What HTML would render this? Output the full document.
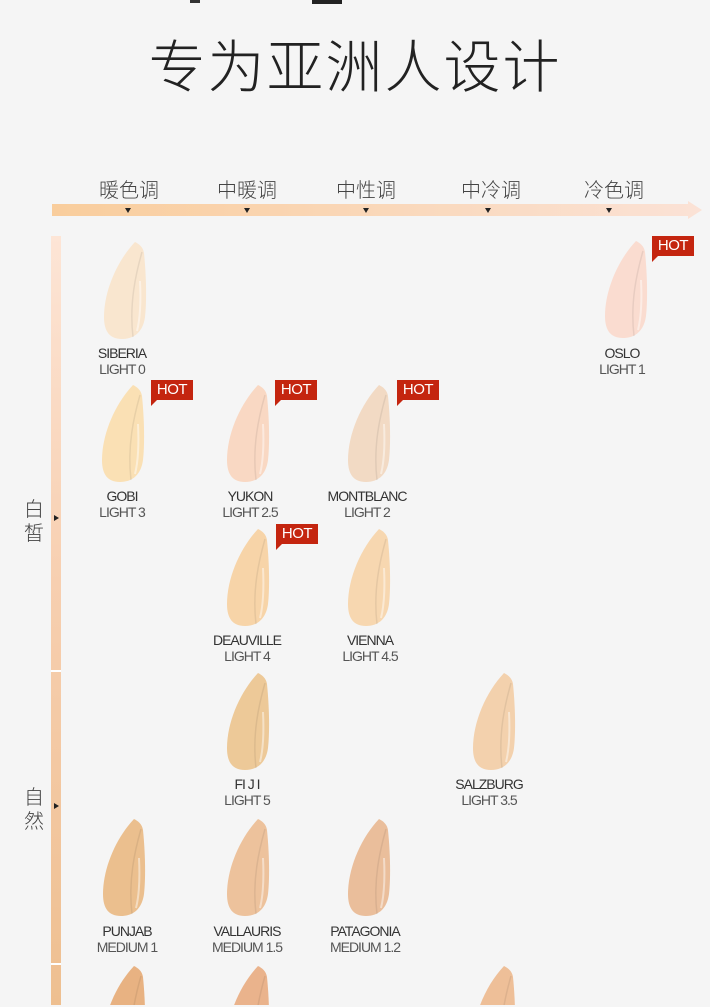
<!DOCTYPE html>
<html style="height:1007px;overflow:hidden"><head><meta charset="utf-8"><style>
body{margin:0;width:710px;height:1007px;background:#f5f5f5;position:relative;overflow:hidden;font-family:"Liberation Sans","Noto Sans CJK SC",sans-serif}
.t{position:absolute;left:0;width:710px;text-align:center;top:22px;font-size:57px;color:#222;font-family:"Noto Sans CJK SC",sans-serif;font-weight:300;letter-spacing:2px}
.h{position:absolute;top:174px;font-size:20px;color:#444;width:90px;text-align:center;font-family:"Noto Sans CJK SC",sans-serif;font-weight:300}
.sw{position:absolute;width:44px;height:100px}
.sb{position:absolute;width:44px;height:40px}
.lb{position:absolute;width:120px;text-align:center;font-size:14px;line-height:16px;color:#333;letter-spacing:-1px}
.lb span{color:#555;display:block}
.hot{position:absolute;width:42px;height:20px;background:#c4250f;color:#fff;font-size:15px;line-height:20px;text-align:center;letter-spacing:-0.5px}
.hot:after{content:"";position:absolute;left:0;bottom:-6px;border-left:6px solid #c4250f;border-bottom:6px solid transparent}
.v{position:absolute;left:24px;font-size:20px;line-height:24px;width:22px;color:#444;font-family:"Noto Sans CJK SC",sans-serif;font-weight:300}
.tri{position:absolute;width:0;height:0;border-left:3px solid transparent;border-right:3px solid transparent;border-top:5px solid #222;top:208px}
.trr{position:absolute;left:54px;width:0;height:0;border-top:3px solid transparent;border-bottom:3px solid transparent;border-left:5px solid #222}
</style></head><body>
<svg width="0" height="0" style="position:absolute;left:0;top:0"><defs>
<symbol id="s" viewBox="0 0 44 100"><path d="M32 1 C36 3 40 6 41 12 C43 32 44 58 42 76 C40 91 31 98 19 98 C7 98 1 91 1 76 C1 50 14 20 32 1 Z" fill="currentColor"/><path d="M39 11 C33 32 26 62 30 96" stroke="#000" stroke-opacity=".07" stroke-width="1.5" fill="none"/><path d="M37 40 C38 60 37 78 34 90" stroke="#fff" stroke-opacity=".45" stroke-width="2" fill="none"/></symbol>
<linearGradient id="gh" x1="0" x2="1"><stop offset="0" stop-color="#f9cd9c"/><stop offset="1" stop-color="#fbe2d6"/></linearGradient>
<linearGradient id="gv" x1="0" x2="0" y1="0" y2="1"><stop offset="0" stop-color="#fde5d6"/><stop offset=".45" stop-color="#f7cfb0"/><stop offset="1" stop-color="#eebf90"/></linearGradient>
</defs></svg>
<div style="position:absolute;left:190px;top:0;width:10px;height:3px;background:#333"></div>
<div style="position:absolute;left:312px;top:0;width:30px;height:4px;background:#222"></div>
<div class="t">专为亚洲人设计</div>
<div class="h" style="left:84px">暖色调</div>
<div class="h" style="left:202px">中暖调</div>
<div class="h" style="left:321px">中性调</div>
<div class="h" style="left:446px">中冷调</div>
<div class="h" style="left:569px">冷色调</div>
<svg style="position:absolute;left:0;top:0" width="710" height="1005">
<path d="M52 204 H688 V201 L702 210 L688 219 V216 H52 Z" fill="url(#gh)"/>
<rect x="51" y="236" width="10" height="769" fill="url(#gv)"/>
<rect x="51" y="670" width="10" height="2" fill="#fff"/>
<rect x="51" y="963" width="10" height="2" fill="#fff"/>
</svg>
<div class="tri" style="left:125px"></div><div class="tri" style="left:244px"></div><div class="tri" style="left:363px"></div><div class="tri" style="left:485px"></div><div class="tri" style="left:606px"></div>
<div class="trr" style="top:515px"></div><div class="trr" style="top:803px"></div>
<div class="v" style="top:496px">白皙</div>
<div class="v" style="top:784px">自然</div>

<svg class="sw" style="left:103px;top:241px;color:#f9e6cf"><use href="#s"/></svg>
<svg class="sw" style="left:604px;top:240px;color:#fadcd0"><use href="#s"/></svg>
<svg class="sw" style="left:101px;top:384px;color:#fae0b4"><use href="#s"/></svg>
<svg class="sw" style="left:226px;top:384px;color:#f9d8c3"><use href="#s"/></svg>
<svg class="sw" style="left:347px;top:384px;color:#f2dac4"><use href="#s"/></svg>
<svg class="sw" style="left:226px;top:528px;color:#f7d4a8"><use href="#s"/></svg>
<svg class="sw" style="left:347px;top:528px;color:#f7d7b0"><use href="#s"/></svg>
<svg class="sw" style="left:226px;top:672px;color:#edc998"><use href="#s"/></svg>
<svg class="sw" style="left:472px;top:672px;color:#f3d1ad"><use href="#s"/></svg>
<svg class="sw" style="left:102px;top:818px;color:#ebbf8e"><use href="#s"/></svg>
<svg class="sw" style="left:226px;top:818px;color:#edc29c"><use href="#s"/></svg>
<svg class="sw" style="left:347px;top:818px;color:#eabe9b"><use href="#s"/></svg>
<svg class="sb" viewBox="0 0 44 40" style="left:102px;top:965px;color:#e8b282"><use href="#s" width="44" height="100"/></svg>
<svg class="sb" viewBox="0 0 44 40" style="left:226px;top:965px;color:#eab38c"><use href="#s" width="44" height="100"/></svg>
<svg class="sb" viewBox="0 0 44 40" style="left:472px;top:965px;color:#eebf98"><use href="#s" width="44" height="100"/></svg>

<div class="lb" style="left:62px;top:345px">SIBERIA<span>LIGHT 0</span></div>
<div class="lb" style="left:562px;top:345px">OSLO<span>LIGHT 1</span></div>
<div class="lb" style="left:62px;top:488px">GOBI<span>LIGHT 3</span></div>
<div class="lb" style="left:190px;top:488px">YUKON<span>LIGHT 2.5</span></div>
<div class="lb" style="left:307px;top:488px">MONTBLANC<span>LIGHT 2</span></div>
<div class="lb" style="left:187px;top:632px">DEAUVILLE<span>LIGHT 4</span></div>
<div class="lb" style="left:310px;top:632px">VIENNA<span>LIGHT 4.5</span></div>
<div class="lb" style="left:187px;top:776px">FI J I<span>LIGHT 5</span></div>
<div class="lb" style="left:429px;top:776px">SALZBURG<span>LIGHT 3.5</span></div>
<div class="lb" style="left:67px;top:923px">PUNJAB<span>MEDIUM 1</span></div>
<div class="lb" style="left:187px;top:923px">VALLAURIS<span>MEDIUM 1.5</span></div>
<div class="lb" style="left:305px;top:923px">PATAGONIA<span>MEDIUM 1.2</span></div>

<div class="hot" style="left:652px;top:236px">HOT</div>
<div class="hot" style="left:151px;top:380px">HOT</div>
<div class="hot" style="left:275px;top:380px">HOT</div>
<div class="hot" style="left:397px;top:380px">HOT</div>
<div class="hot" style="left:276px;top:524px">HOT</div>
</body></html>
